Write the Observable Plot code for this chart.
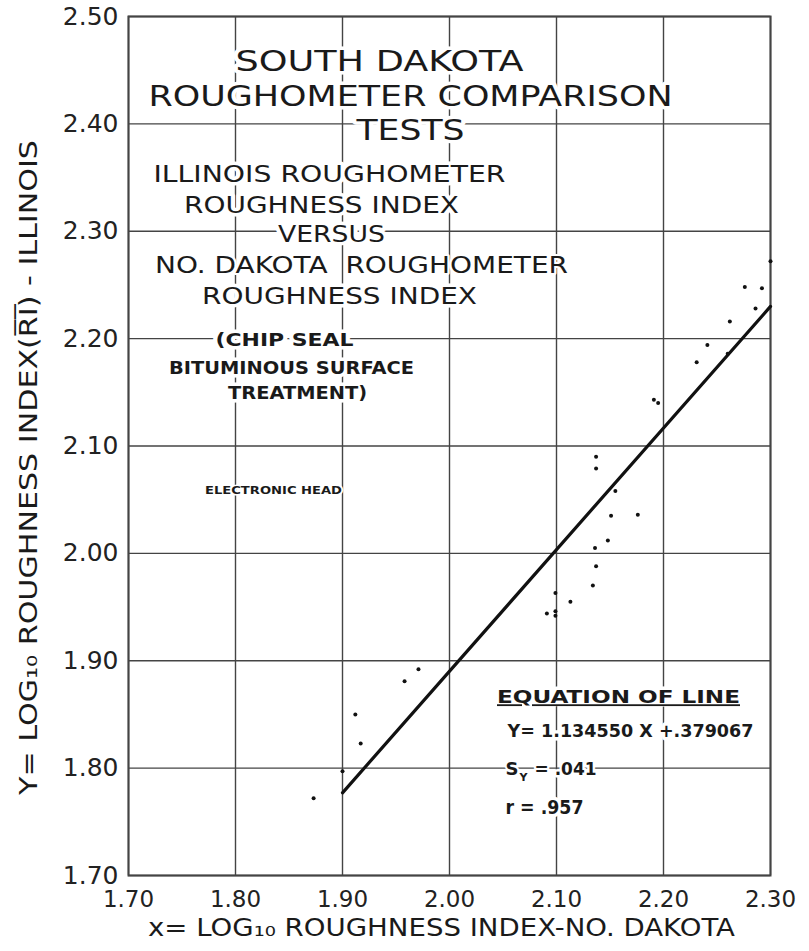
<!DOCTYPE html>
<html>
<head>
<meta charset="utf-8">
<script src="https://cdn.jsdelivr.net/npm/d3@7"></script>
<script src="https://cdn.jsdelivr.net/npm/@observablehq/plot@0.6"></script>
<style>
  html, body { margin: 0; padding: 0; background: #fff; }
</style>
</head>
<body>
<div id="chart"></div>
<script>
// ---- data ----
const ndIndex = [1.873, 1.900, 1.912, 1.917, 1.958, 1.971, 2.091, 2.099, 2.099, 2.099,
                 2.113, 2.134, 2.137, 2.136, 2.148, 2.151, 2.176, 2.155, 2.137, 2.137,
                 2.191, 2.195, 2.231, 2.241, 2.260, 2.262, 2.286, 2.276, 2.292, 2.300];
const ilIndex = [1.772, 1.797, 1.850, 1.823, 1.881, 1.892, 1.944, 1.963, 1.946, 1.942,
                 1.955, 1.970, 1.988, 2.005, 2.012, 2.035, 2.036, 2.058, 2.079, 2.090,
                 2.143, 2.140, 2.178, 2.194, 2.186, 2.216, 2.228, 2.248, 2.247, 2.272];
const fitX = [1.90, 2.30];
const fitY = [1.777, 2.230];
const xTicks = [1.70, 1.80, 1.90, 2.00, 2.10, 2.20, 2.30];
const yTicks = [1.70, 1.80, 1.90, 2.00, 2.10, 2.20, 2.30, 2.40, 2.50];

const titleLines = ["SOUTH DAKOTA", "ROUGHOMETER COMPARISON", "TESTS"];
const subtitleLines = ["ILLINOIS ROUGHOMETER", "ROUGHNESS INDEX", "VERSUS", "NO. DAKOTA  ROUGHOMETER", "ROUGHNESS INDEX"];
const noteLines = ["(CHIP SEAL", "BITUMINOUS SURFACE", "TREATMENT)"];
const headLabel = "ELECTRONIC HEAD";
const eqTitle = "EQUATION OF LINE";
const eqLine = "Y= 1.134550 X +.379067";
const syParts = ["S", "Y", "= .041"];
const rLine = "r = .957";
const xTitle = "x= LOG\u2081\u2080 ROUGHNESS INDEX-NO. DAKOTA";
const yTitle = "Y= LOG\u2081\u2080 ROUGHNESS INDEX(R\u0305I\u0305) - ILLINOIS";

// ---- layout ----
const W = 809, H = 951, ML = 128, MR = 39, MT = 16, MB = 76;
const points = ndIndex.map((x, i) => ({x, y: ilIndex[i]}));
const fit = fitX.map((x, i) => ({x, y: fitY[i]}));

const widths = new Map();
function ann(str, cx, cy, o = {}) {
  const {size = 23, weight = "normal", anchor = "middle", halo = 7, rotate = 0, width = null,
         fill = "#1a1a1a", cls = null} = o;
  if (width) widths.set(str, width);
  return Plot.text([str], {
    frameAnchor: "top-left", dx: cx - ML, dy: cy - MT, text: d => d,
    fontSize: size, fontWeight: weight, textAnchor: anchor, lineAnchor: "middle",
    fill, stroke: halo ? "white" : "none", strokeWidth: halo, rotate,
    ariaDescription: cls || undefined
  });
}

const annotations = [
  ann(titleLines[0], 379, 62, {size: 28, width: 288}),
  ann(titleLines[1], 410, 97, {size: 28, width: 524}),
  ann(titleLines[2], 410, 131, {size: 28, width: 108}),
  ann(subtitleLines[0], 329, 174, {width: 352}),
  ann(subtitleLines[1], 321, 205, {width: 275}),
  ann(subtitleLines[2], 331, 234, {width: 107}),
  ann(subtitleLines[3], 361, 265, {width: 413, halo: 4}),
  ann(subtitleLines[4], 339, 296, {width: 275}),
  ann(noteLines[0], 284, 340, {size: 18, weight: "bold", width: 138}),
  ann(noteLines[1], 291, 368, {size: 18, weight: "bold", width: 245}),
  ann(noteLines[2], 297, 393, {size: 18, weight: "bold", width: 139}),
  ann(headLabel, 273, 490, {size: 10, weight: "bold", width: 137, halo: 3}),
  // halo behind the underlined heading, then the heading itself without halo
  ann(eqTitle, 618, 697, {size: 18, weight: "bold", width: 243, fill: "white", cls: "eqhalo"}),
  ann(eqTitle, 618, 697, {size: 18, weight: "bold", width: 243, halo: 0, cls: "equnder"}),
  ann(eqLine, 507, 731, {size: 18, weight: "bold", anchor: "start", width: 246}),
  ann(syParts[0], 505, 769, {size: 18, weight: "bold", anchor: "start", halo: 4}),
  ann(syParts[1], 519, 777, {size: 11, weight: "bold", anchor: "start", halo: 0}),
  ann(syParts[2], 534, 769, {size: 18, weight: "bold", anchor: "start", width: 62, halo: 5}),
  ann(rLine, 505, 807, {size: 19, weight: "bold", anchor: "start", width: 78}),
  ann(xTitle, 441, 928, {size: 24, width: 587, halo: 0}),
  ann(yTitle, 29, 467, {size: 24, width: 655, halo: 0, rotate: -90})
];

const chart = Plot.plot({
  width: W, height: H,
  marginLeft: ML, marginRight: MR, marginTop: MT, marginBottom: MB,
  style: {fontFamily: "'DejaVu Sans', sans-serif", background: "white", color: "#222"},
  x: {domain: [1.7, 2.3], label: null},
  y: {domain: [1.7, 2.5], label: null},
  marks: [
    Plot.gridX(xTicks, {stroke: "#444", strokeOpacity: 1, strokeWidth: 1.4}),
    Plot.gridY(yTicks, {stroke: "#444", strokeOpacity: 1, strokeWidth: 1.4}),
    Plot.frame({stroke: "#444", strokeWidth: 2}),
    Plot.axisX(xTicks, {tickSize: 0, tickPadding: 15, fontSize: 23, tickFormat: d3.format(".2f"), label: null, fill: "#222"}),
    Plot.axisY(yTicks, {tickSize: 0, tickPadding: 10, fontSize: 25, tickFormat: d3.format(".2f"), label: null, fill: "#222"}),
    Plot.line(fit, {x: "x", y: "y", stroke: "#111", strokeWidth: 3.2}),
    Plot.dot(points, {x: "x", y: "y", r: 2, fill: "#111", stroke: "none"}),
    ...annotations
  ]
});

chart.querySelectorAll("text").forEach(t => {
  const s = t.textContent;
  if (widths.has(s)) {
    t.setAttribute("textLength", widths.get(s));
    t.setAttribute("lengthAdjust", "spacingAndGlyphs");
  }
});
chart.querySelectorAll("g[aria-description='equnder'] text").forEach(t => {
  t.style.textDecoration = "underline";
});

document.getElementById("chart").appendChild(chart);
</script>
</body>
</html>
